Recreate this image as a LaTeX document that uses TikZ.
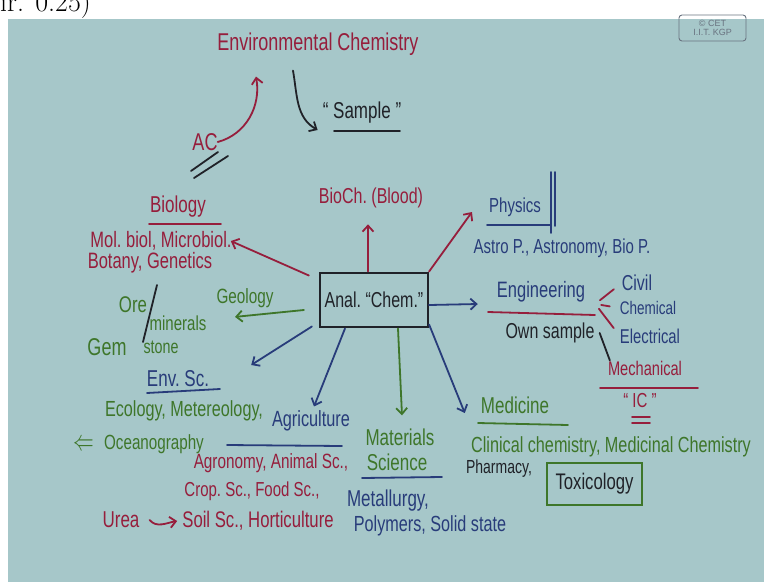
\documentclass[tikz,border=0pt]{standalone}
\usepackage{fontspec}
\setsansfont{Liberation Sans}
\usepackage{tikz}
\usetikzlibrary{arrows.meta, calc, positioning}
\usepackage{xcolor}
\definecolor{board}{RGB}{166,199,201}
\definecolor{redink}{RGB}{150,30,60}
\definecolor{blueink}{RGB}{40,60,122}
\definecolor{greenink}{RGB}{62,118,42}
\definecolor{blackink}{RGB}{32,34,40}
\definecolor{logogray}{RGB}{105,115,128}

\begin{document}
\begin{tikzpicture}[x=1pt, y=-1pt,
    >={Straight Barb[length=6pt, width=11pt]},
    pen/.style={line width=1.8pt, line cap=round},
    hand/.style={font=\sffamily\fontsize{#1}{#1}\selectfont, yscale=1.35, inner sep=0pt},
    hand/.default=16]
    % 画面
    \path[use as bounding box, clip] (0,0) rectangle (764,582);
    \node[anchor=base west, inner sep=0pt, font=\fontsize{28}{28}\selectfont] (topnote) at (0,11) {ir. 0.25)};
    \fill[board] (8,19) rectangle (764,582);
    \node[draw=logogray, rounded corners=3pt, line width=0.9pt, minimum width=67pt, minimum height=26pt,
          inner sep=1pt, align=center, text=logogray, font=\sffamily\fontsize{9}{9.5}\selectfont] (cet) at (712.5,28) {© CET\\I.I.T. KGP};

    % 上方
    \node[hand=18, redink] (env) at (318,44) {Environmental Chemistry};
    \node[hand=18, redink] (ac) at (205,142) {AC};
    \node[hand=17, blackink] (samp) at (362,113) {“ Sample ”};
    \draw[pen, redink, ->] (ac.east) to[out=15, in=-80] ([xshift=-62pt, yshift=-21pt]env.south);
    \draw[pen, blackink, ->] ([xshift=-25pt, yshift=-15pt]env.south) to[out=-80, in=150] ([xshift=-5pt, yshift=-17pt]samp.west);
    \draw[pen, blackink] (334,131) -- (400,131);
    \draw[pen, blackink] (191,171) -- (218,152);
    \draw[pen, blackink] (194,178) -- (228,156);

    % 中心
    \node[draw=blackink, line width=2.2pt, hand=16, blackink, minimum width=108pt, minimum height=40pt] (chem) at (374,300) {Anal.\ “Chem.”};

    % 生物
    \node[hand=17, redink] (bio) at (178,207) {Biology};
    \draw[pen, redink] (149,224) -- (221,224);
    \node[hand=16.5, redink] (molb) at (161,241) {Mol.\ biol, Microbiol.};
    \node[hand=16.5, redink] (bot) at (150,263) {Botany, Genetics};
    \draw[pen, redink, ->] ([xshift=-10pt, yshift=-4pt]chem.north west) -- ([xshift=-1pt]molb.east);
    \node[hand=16, redink] (bioch) at (371,198) {BioCh.\ (Blood)};
    \draw[pen, redink, ->, shorten >=16pt] ([xshift=-6pt]chem.north) -- ([xshift=-3pt]bioch.south);

    % 物理
    \node[hand=15, blueink] (phys) at (515,207) {Physics};
    \draw[pen, blueink] (487,225) -- (550,225);
    \draw[pen, blueink] (551,172) -- (551,233);
    \draw[pen, blueink] (555,172) -- (555,226);
    \node[hand=15, blueink] (astro) at (562,248) {Astro P., Astronomy, Bio P.};
    \draw[pen, redink, ->] (chem.north east) -- ([xshift=-17pt, yshift=-5pt]phys.west);

    % 工程
    \node[hand=16.5, blueink] (eng) at (541,292) {Engineering};
    \draw[pen, redink] (488,312) -- (595,315);
    \node[hand=16, blackink] (own) at (550,333) {Own sample};
    \draw[pen, blueink, ->] ([yshift=-5pt]chem.east) -- ([xshift=-19pt, yshift=-12pt]eng.west);
    \node[hand=16, blueink] (civil) at (637,283) {Civil};
    \node[hand=13.5, blueink] (chemic) at (648,308) {Chemical};
    \node[hand=14.8, blueink] (elec) at (650,336) {Electrical};
    \coordinate (fork) at ($(eng.east)+(10,12)$);
    \foreach \n in {civil, chemic, elec}
        \draw[pen, redink, shorten <=6pt, shorten >=10pt] (fork) -- (\n.west);
    \node[hand=14.6, redink] (mech) at (645,368) {Mechanical};
    \draw[pen, redink] (600,388) -- (698,388);
    \draw[pen, blackink] ([xshift=5pt]own.east) -- ([xshift=2pt]mech.north west);
    \node[hand=15, redink] (ic) at (640,401) {“~IC~”};
    \draw[pen, redink] (632,417) -- (650,417);
    \draw[pen, redink] (632,423) -- (650,423);

    % 地质
    \node[hand=15.3, greenink] (geo) at (245,298) {Geology};
    \draw[pen, greenink, ->] ([xshift=-15pt, yshift=-10pt]chem.west) -- ([xshift=-10pt, yshift=-9pt]geo.south);
    \node[hand=16.8, greenink] (ore) at (133,305) {Ore};
    \node[hand=15, greenink] (miner) at (178,323) {minerals};
    \node[hand=18, greenink] (gem) at (107,347) {Gem};
    \node[hand=14.3, greenink] (stone) at (161,347) {stone};
    \draw[pen, blackink] (157,285) -- (143,342);

    % 环境
    \node[hand=17, blueink] (envsc) at (178,379) {Env.\ Sc.};
    \draw[pen, blueink] (147,393) -- (220,389);
    \draw[pen, blueink, ->] ([xshift=-7pt, yshift=2pt]chem.south west) -- ([xshift=42pt, yshift=14pt]envsc.east);
    \node[hand=16.2, greenink] (ecol) at (184,411) {Ecology, Metereology,};
    \node[hand=15.2, greenink] (ocean) at (154,444) {Oceanography};
    \node[greenink, font=\fontsize{22}{22}\selectfont, inner sep=0pt, yscale=1.4] (lfarrow) at (84,445) {$\Leftarrow$};

    % 农业
    \node[hand=16.3, blueink] (agri) at (311,421) {Agriculture};
    \draw[pen, blueink] (227,445) -- (342,446);
    \draw[pen, blueink, ->] ([xshift=-29pt]chem.south) -- ([xshift=3pt, yshift=4pt]agri.north);
    \node[hand=15.3, redink] (agron) at (271,463) {Agronomy, Animal Sc.,};
    \node[hand=15, redink] (crop) at (252,491) {Crop.\ Sc., Food Sc.,};
    \node[hand=17, redink] (urea) at (121,520) {Urea};
    \node[hand=16.7, redink] (soil) at (258,521) {Soil Sc., Horticulture};
    \draw[pen, redink, ->] ([xshift=10pt]urea.east) to[out=-50, in=190] ([xshift=-5pt]soil.west);

    % 材料
    \node[hand=17, greenink] (mat) at (400,437) {Materials};
    \node[hand=17, greenink] (sci) at (397,462) {Science};
    \draw[pen, blueink] (362,478) -- (442,477);
    \draw[pen, greenink, ->] ([xshift=24pt]chem.south) -- ([xshift=2pt, yshift=13pt]mat.north);
    \node[hand=17, blueink] (metal) at (388,501) {Metallurgy,};
    \node[hand=16.2, blueink] (poly) at (430,526) {Polymers, Solid state};

    % 医学
    \node[hand=17, greenink] (med) at (515,405) {Medicine};
    \draw[pen, greenink] (478,423) -- (568,425);
    \draw[pen, blueink, ->] ([yshift=4pt]chem.south east) -- ([xshift=-16pt, yshift=-8pt]med.west);
    \node[hand=16.2, greenink, anchor=west] (clin) at (471,447) {Clinical chemistry, Medicinal Chemistry};
    \node[hand=14, blackink] (pharm) at (499,469) {Pharmacy,};
    \node[hand=16.7, blackink, draw=greenink, line width=1.8pt, minimum width=95pt, minimum height=31pt] (tox) at (594.5,484) {Toxicology};
\end{tikzpicture}
\end{document}
